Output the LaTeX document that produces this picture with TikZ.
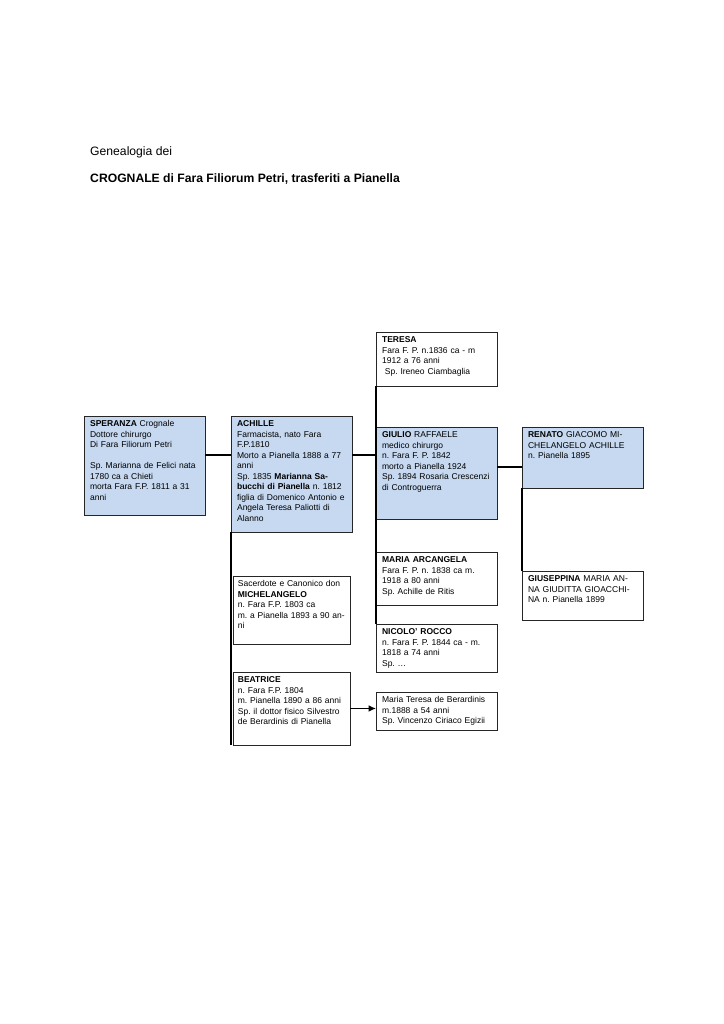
\documentclass[tikz,border=0pt]{standalone}
\usepackage{fontspec}
\setmainfont{Liberation Sans}
\usetikzlibrary{arrows,arrows.meta,positioning,calc}
\definecolor{famblue}{RGB}{198,217,241}
\frenchspacing

\begin{document}
\begin{tikzpicture}[x=0.8222pt,y=-0.8222pt,
  pers/.style={draw=black!85,line width=0.6pt,anchor=north west,outer sep=0pt,
    inner xsep=5pt,inner ysep=0pt,text width=89.5pt,align=left,
    text height=9pt,font=\fontsize{7}{8.6}\selectfont},
  narrow/.style={inner xsep=4pt,text width=88.2pt},
  head/.style={fill=famblue},
  link/.style={line width=1.1pt}]
\useasboundingbox (0,0) rectangle (724,1024);
\node[anchor=base west,inner sep=0pt,font=\fontsize{10}{12}\selectfont] (gen) at (90,156) {Genealogia dei};
\node[anchor=base west,inner sep=0pt,font=\fontsize{10}{12}\selectfont\bfseries] (crog) at (90,182)
  {CROGNALE di Fara Filiorum Petri, trasferiti a Pianella};
% generazione I
\node[pers,head,text depth=72.4pt] (sper) at (84,416)
  {\textbf{SPERANZA} Crognale\\ Dottore chirurgo\\ Di Fara Filiorum Petri\\ ~\\
   Sp. Marianna de Felici nata\\ 1780 ca a Chieti\\ morta Fara F.P. 1811 a 31\\ anni};
% generazione II
\node[pers,head,text depth=86.3pt] (achille) at (231,416)
  {\textbf{ACHILLE}\\ Farmacista, nato Fara\\ F.P.1810\\ Morto a Pianella 1888 a 77\\ anni\\
   Sp. 1835 \textbf{Marianna Sa-}\\ \textbf{bucchi di Pianella} n. 1812\\
   figlia di Domenico Antonio e\\ Angela Teresa Paliotti di\\ Alanno};
\node[pers,narrow,text depth=46.9pt] (michel) at (233,576)
  {\makebox[\linewidth][s]{Sacerdote e Canonico don}\\ \textbf{MICHELANGELO}\\ n. Fara F.P. 1803 ca\\
   \mbox{m. a Pianella 1893 a 90 an-}\\ ni};
\node[pers,narrow,text depth=51pt] (beatrice) at (233,672)
  {\textbf{BEATRICE}\\ n. Fara F.P. 1804\\ m. Pianella 1890 a 86 anni\\
   Sp. il dottor fisico Silvestro\\ de Berardinis di Pianella};
% generazione III
\node[pers,text depth=35.4pt] (teresa) at (376,332)
  {\textbf{TERESA}\\ Fara F. P. n.1836 ca - m\\ 1912 a 76 anni\\ \ Sp. Ireneo Ciambaglia};
\node[pers,head,text depth=66.6pt] (giulio) at (376,427)
  {\textbf{GIULIO} RAFFAELE\\ medico chirurgo\\ n. Fara F. P. 1842\\ morto a Pianella 1924\\
   Sp. 1894 Rosaria Crescenzi\\ di Controguerra};
\node[pers,text depth=34.5pt] (maria) at (376,552)
  {\textbf{MARIA ARCANGELA}\\ Fara F. P. n. 1838 ca m.\\ 1918 a 80 anni\\ Sp. Achille de Ritis};
\node[pers,text depth=30.4pt] (nicolo) at (376,624)
  {\textbf{NICOLO' ROCCO}\\ n. Fara F. P. 1844 ca - m.\\ 1818 a 74 anni\\ Sp. \dots};
\node[pers,text depth=22.2pt] (mteresa) at (376,692)
  {Maria Teresa de Berardinis\\ m.1888 a 54 anni\\ Sp. Vincenzo Ciriaco Egizii};
% generazione IV
\node[pers,head,text depth=41.1pt] (renato) at (522,427)
  {\textbf{RENATO} GIACOMO MI-\\ CHELANGELO ACHILLE\\ n. Pianella 1895};
\node[pers,text depth=31.2pt] (giuseppina) at (522,571)
  {\textbf{GIUSEPPINA} MARIA AN-\\ NA GIUDITTA GIOACCHI-\\ NA n. Pianella 1899};
% collegamenti
\coordinate (jA) at (231,455);
\coordinate (jB) at (510,467);
\draw[link] (sper.east |- jA) -- (achille.west |- jA);
\draw[link] (achille.east |- jA) -- (teresa.west |- jA);
\draw[link] (achille.south west) -- (achille.south west |- beatrice.south);
\draw[link] (teresa.south west) -- (teresa.south west |- nicolo.north);
\draw[link] (giulio.east |- jB) -- (renato.west |- jB);
\draw[link] (renato.south west) -- (giuseppina.north west);
\draw[link,-{Latex[length=6pt,width=5.5pt]}] (beatrice.east) -- (mteresa.west |- beatrice.east);
\end{tikzpicture}
\end{document}
